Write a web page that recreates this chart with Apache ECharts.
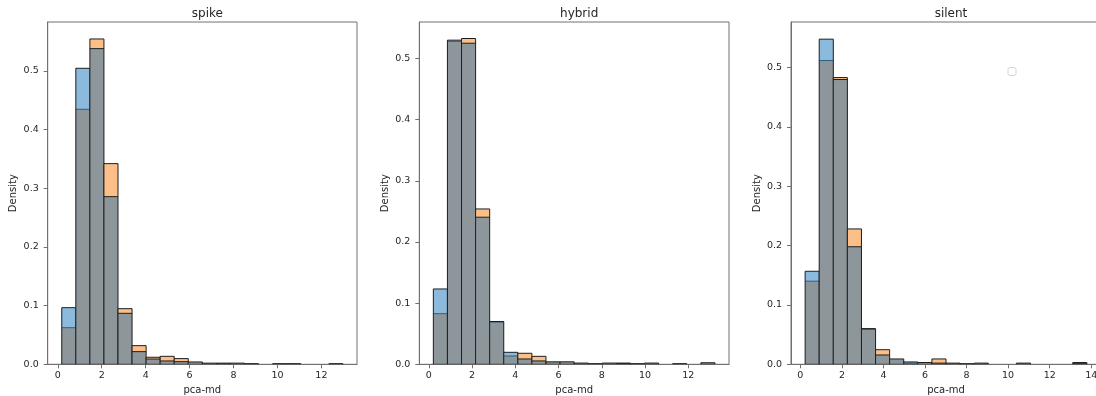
<!DOCTYPE html>
<html>
<head>
<meta charset="utf-8">
<script src="https://cdn.jsdelivr.net/npm/echarts@6/dist/echarts.min.js"></script>
<style>
html,body{margin:0;padding:0;background:#fff;}
#chart{width:1096px;height:396px;}
</style>
</head>
<body>
<div id="chart"></div>
<script>
// ---- data ----
const panelTitles = ['spike', 'hybrid', 'silent'];
const xTicks = [[0, 2, 4, 6, 8, 10, 12], [0, 2, 4, 6, 8, 10, 12], [0, 2, 4, 6, 8, 10, 12, 14]];
const yTicks = [0, 0.1, 0.2, 0.3, 0.4, 0.5];

// histogram bin layout per panel: first edge, bin width (20 bins each)
const binStart = [0.18, 0.21, 0.23];
const binWidth = [0.64, 0.651, 0.678];

const spikeBlue   = [0.0965, 0.5045, 0.538, 0.2857, 0.0869, 0.0216, 0.009, 0.0057, 0.0045, 0.004, 0.002, 0.002, 0.002, 0.001, 0, 0.001, 0.001, 0, 0, 0.001];
const spikeOrange = [0.0624, 0.4346, 0.5545, 0.342, 0.0948, 0.0318, 0.012, 0.0136, 0.0097, 0.004, 0.002, 0.001, 0.002, 0.001, 0, 0.001, 0.001, 0, 0, 0.001];

const hybridBlue   = [0.1232, 0.530, 0.525, 0.2405, 0.070, 0.0196, 0.0087, 0.0055, 0.004, 0.004, 0.002, 0.001, 0.002, 0.001, 0.001, 0.002, 0, 0.001, 0, 0.0025];
const hybridOrange = [0.0828, 0.528, 0.5327, 0.254, 0.069, 0.0136, 0.018, 0.013, 0.004, 0.004, 0.002, 0.001, 0.002, 0.002, 0.001, 0.002, 0, 0.001, 0, 0.0025];

const silentBlue   = [0.1567, 0.5477, 0.4797, 0.198, 0.0595, 0.0157, 0.009, 0.004, 0.003, 0.002, 0.002, 0.001, 0.002, 0, 0, 0.002, 0, 0, 0, 0.001];
const silentOrange = [0.140, 0.5117, 0.483, 0.228, 0.060, 0.0246, 0.009, 0.002, 0.003, 0.009, 0.002, 0.001, 0.002, 0, 0, 0.002, 0, 0, 0, 0.003];

const xRange = [[-0.46, 13.62], [-0.44, 13.88], [-0.45, 14.47]];
const yMax = [0.5834, 0.5597, 0.5766];

// ---- styling ----
const BLUE_ONLY = '#8cbadd';
const ORANGE_ONLY = '#fdbf88';
const OVERLAP = '#8d979b';
const EDGE = '#1e1e1e';
const TEXT = '#262626';
const SPINE = '#707070';
const FONT = 'DejaVu Sans';

const blues = [spikeBlue, hybridBlue, silentBlue];
const oranges = [spikeOrange, hybridOrange, silentOrange];

const gridPos = [
  {left: 47.7, right: 1096 - 357, top: 22, bottom: 31.7},
  {left: 419.3, right: 1096 - 729, top: 22, bottom: 31.7},
  {left: 791, right: -5, top: 22, bottom: 31.7}
];

function renderItem(params, api) {
  const x0 = api.value(0), x1 = api.value(1), b = api.value(2), o = api.value(3);
  const hi = Math.max(b, o), lo = Math.min(b, o);
  if (hi <= 0) return {type: 'group', children: []};
  const pBase = api.coord([x0, 0]);
  const pHi = api.coord([x1, hi]);
  const pLo = api.coord([x1, lo]);
  const x = pBase[0], w = pHi[0] - pBase[0];
  const children = [];
  children.push({type: 'rect', shape: {x: x, y: pHi[1], width: w, height: pBase[1] - pHi[1]},
    style: {fill: b > o ? BLUE_ONLY : ORANGE_ONLY, stroke: null}});
  if (lo > 0) {
    children.push({type: 'rect', shape: {x: x, y: pLo[1], width: w, height: pBase[1] - pLo[1]},
      style: {fill: OVERLAP, stroke: null}});
    if (hi > lo) {
      children.push({type: 'line', shape: {x1: x, y1: pLo[1], x2: x + w, y2: pLo[1]},
        style: {stroke: b > o ? '#2f5f84' : EDGE, lineWidth: 1}});
    }
  }
  children.push({type: 'rect', shape: {x: x, y: pHi[1], width: w, height: pBase[1] - pHi[1]},
    style: {fill: null, stroke: EDGE, lineWidth: 1}});
  return {type: 'group', children: children};
}

const grids = [], xAxes = [], yAxes = [], series = [], titles = [];
for (let p = 0; p < 3; p++) {
  grids.push(Object.assign({containLabel: false, outerBoundsMode: 'none', show: true, borderColor: SPINE, borderWidth: 1, backgroundColor: 'transparent'}, gridPos[p]));
  const g = gridPos[p];
  const rightEdge = 1096 - g.right;
  titles.push({text: panelTitles[p], left: (g.left + rightEdge) / 2, top: 3, textAlign: 'center',
    textStyle: {fontFamily: FONT, fontSize: 12, fontWeight: 'normal', color: TEXT}});
  xAxes.push({
    type: 'value', gridIndex: p, min: xRange[p][0], max: xRange[p][1],
    name: 'pca-md', nameLocation: 'middle', nameGap: 20,
    nameTextStyle: {fontFamily: FONT, fontSize: 10, color: TEXT},
    axisLine: {show: true, onZero: false, lineStyle: {color: SPINE, width: 1}},
    axisTick: {show: true, length: 4, inside: false, customValues: xTicks[p], lineStyle: {color: SPINE}},
    axisLabel: {customValues: xTicks[p], fontFamily: FONT, fontSize: 9.5, color: TEXT, margin: 6,
      formatter: v => String(v)},
    splitLine: {show: false}
  });
  yAxes.push({
    type: 'value', gridIndex: p, min: 0, max: yMax[p],
    name: 'Density', nameLocation: 'middle', nameGap: 29,
    nameTextStyle: {fontFamily: FONT, fontSize: 10, color: TEXT},
    axisLine: {show: true, onZero: false, lineStyle: {color: SPINE, width: 1}},
    axisTick: {show: true, length: 4, customValues: yTicks, lineStyle: {color: SPINE}},
    axisLabel: {customValues: yTicks, fontFamily: FONT, fontSize: 9.5, color: TEXT, margin: 9,
      formatter: v => v.toFixed(1)},
    splitLine: {show: false}
  });
  const data = [];
  for (let i = 0; i < blues[p].length; i++) {
    const s = binStart[p] + i * binWidth[p];
    data.push([s, s + binWidth[p], blues[p][i], oranges[p][i]]);
  }
  series.push({
    type: 'custom', xAxisIndex: p, yAxisIndex: p, renderItem: renderItem,
    encode: {x: [0, 1], y: [2, 3]}, data: data, clip: true, silent: true, animation: false
  });
}

const chart = echarts.init(document.getElementById('chart'), null, {renderer: 'canvas'});
chart.setOption({
  animation: false,
  backgroundColor: '#ffffff',
  title: titles,
  grid: grids,
  xAxis: xAxes,
  yAxis: yAxes,
  series: series,
  graphic: [{type: 'rect', shape: {x: 1008, y: 67.5, width: 8, height: 8, r: 2},
    style: {fill: '#ffffff', stroke: '#d4d4d4', lineWidth: 1}}]
});
</script>
</body>
</html>
